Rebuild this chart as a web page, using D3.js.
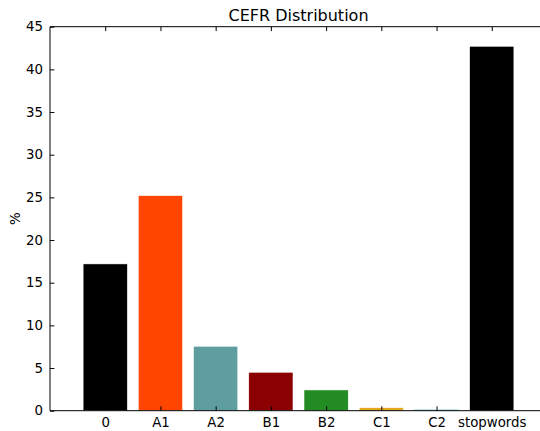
<!DOCTYPE html>
<html><head><meta charset="utf-8">
<script src="https://cdn.jsdelivr.net/npm/d3@7/dist/d3.min.js"></script>
<style>body{margin:0;background:#fff}svg{display:block}text{font-family:"DejaVu Sans",sans-serif}</style>
</head><body><svg id="c" width="540" height="431"></svg>
<script>
const categories = ["0","A1","A2","B1","B2","C1","C2","stopwords"];
const values = [17.2, 25.2, 7.55, 4.5, 2.43, 0.35, 0.12, 42.7];
const colors = ["#000000","#FF4500","#5F9EA0","#8B0000","#228B22","#E5A51A","#ADD8E6","#000000"];
const yTicks = [0,5,10,15,20,25,30,35,40,45];

const svg = d3.select("#c");
const L=50, R=547, T=26.7, B=410.7;
const FS = 13.33;
const x = d3.scaleLinear().domain([-1,8]).range([L,R]);
const y = d3.scaleLinear().domain([0,45]).range([B,T]);

svg.append("g").selectAll("rect").data(values).join("rect")
  .attr("x",(d,i)=>x(i-0.4)).attr("width",x(0.8)-x(0))
  .attr("y",d=>y(d)).attr("height",d=>B-y(d))
  .attr("fill",(d,i)=>colors[i]).attr("stroke",(d,i)=>i===6?colors[i]:"#ffffff").attr("stroke-width",0.5);

// axes
const yAx = d3.axisLeft(y).tickValues(yTicks).tickSize(-4.4).tickPadding(7);
const gy = svg.append("g").attr("transform",`translate(${L},0)`).call(yAx);
gy.attr("font-size",null).attr("font-family",null);
gy.select(".domain").remove();
gy.selectAll("text").style("font-size",FS+"px").attr("fill","#000");

const xAx = d3.axisBottom(x).tickValues(d3.range(categories.length)).tickFormat(i=>categories[i]).tickSize(-4.4).tickPadding(7);
const gx = svg.append("g").attr("transform",`translate(0,${B})`).call(xAx);
gx.attr("font-size",null).attr("font-family",null);
gx.select(".domain").remove();
gx.selectAll("text").style("font-size",FS+"px").attr("fill","#000");

const xTop = d3.axisTop(x).tickValues(d3.range(categories.length)).tickFormat("").tickSize(-4.4);
const gt = svg.append("g").attr("transform",`translate(0,${T})`).call(xTop);
gt.select(".domain").remove();

// spines
svg.append("path").attr("d",`M${L},${T}H${R}V${B}H${L}Z`).attr("fill","none").attr("stroke","#000").attr("stroke-width",1);

svg.append("text").attr("x",(L+R)/2).attr("y",21).attr("text-anchor","middle").style("font-size","16px").text("CEFR Distribution");
svg.append("text").attr("transform",`translate(20,${(T+B)/2}) rotate(-90)`).attr("text-anchor","middle").style("font-size",FS+"px").text("%");
</script></body></html>
